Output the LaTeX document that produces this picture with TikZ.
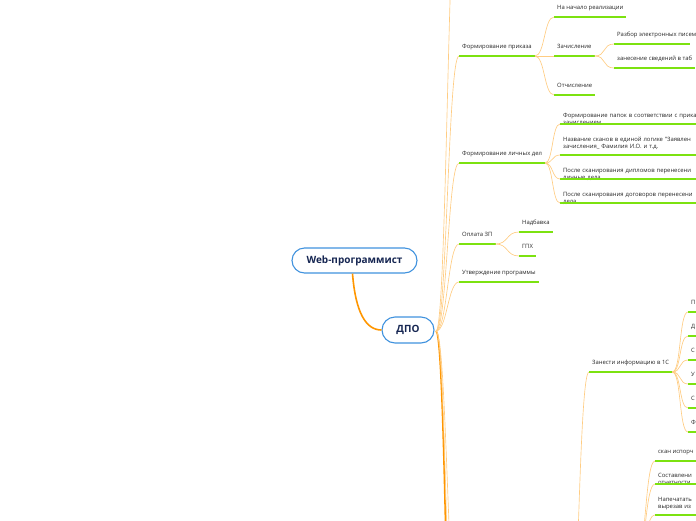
\documentclass[tikz,border=0pt]{standalone}
\usepackage{fontspec}
\setmainfont{Open Sans}
\usepackage{tikz}

\definecolor{mapblue}{RGB}{64,146,222}
\definecolor{mapnavy}{RGB}{22,38,82}
\definecolor{maporange}{RGB}{255,150,0}
\definecolor{maplink}{RGB}{255,204,130}
\definecolor{mapgreen}{RGB}{124,226,16}
\definecolor{maptext}{RGB}{40,40,40}

\begin{document}
\begin{tikzpicture}[x=1pt,y=-1pt,line width=.35pt,font=\fontsize{5.9}{7.6}\selectfont,
  topic/.style={draw=mapblue,line width=1.1pt,fill=white,text=mapnavy,inner sep=0pt,font=\fontsize{10}{12}\selectfont\bfseries},
  leaf/.style={anchor=south west,inner xsep=3pt,inner ysep=7pt,text depth=0pt,text=maptext},
  wrap/.style={leaf,inner ysep=-1pt,text depth=7.6pt,text width=150pt,align=left},
  uline/.style={draw=mapgreen,line width=1.4pt},
  link/.style={draw=maplink,line width=.65pt},
  trunk/.style={draw=maporange,line width=1.6pt},
  fan/.style={out=0,in=180,distance=#1}]
\useasboundingbox (0,0) rectangle (696,520);
\clip (0,0) rectangle (696,520);

\node[topic,minimum width=125pt,minimum height=25pt,rounded corners=12.5pt] (web) at (354.5,260.5) {Web-программист};
\node[topic,minimum width=52pt,minimum height=26pt,rounded corners=13pt] (dpo) at (408,330) {ДПО};
\coordinate (dpohub) at (436,331);

\node[leaf] (prikaz) at (459,56) {Формирование приказа};
\node[leaf] (start) at (554,17) {На начало реализации};
\node[leaf] (zach) at (554,56) {Зачисление};
\node[leaf] (otch) at (554,95) {Отчисление};
\node[leaf] (pisma) at (614,44) {\makebox[70pt][l]{Разбор электронных писем}};
\node[leaf] (tabl) at (614,68) {занесение сведений в таб};

\node[leaf] (dela) at (459,163) {Формирование личных дел};
\node[wrap] (papki) at (560,124) {Формирование папок в соответствии с прика\\зачислением};
\node[wrap,inner ysep=6pt] (skany) at (560,155) {Название сканов в единой логике "Заявлен\\зачисления\_ Фамилия И.О. и т.д.};
\node[wrap] (diplom) at (560,179) {После сканирования дипломов перенесени\\личные дела};
\node[wrap] (dogovor) at (560,203) {После сканирования договоров перенесени\\дела};

\node[leaf] (zp) at (459,244) {Оплата ЗП};
\node[leaf] (nadb) at (519,232) {Надбавка};
\node[leaf] (gph) at (519,256) {ГПХ};
\node[leaf] (utv) at (459,282) {Утверждение программы};

\node[leaf] (onec) at (589,372) {Занести информацию в 1С};
\foreach \y/\l [count=\i] in {312/П,336/Д,360/С,384/У,408/С,432/Ф}
  \node[leaf,text width=40pt] (c\i) at (688,\y) {\l};
\node[leaf] (scan) at (655,461) {скан испорч};
\node[wrap] (otchet) at (655,484) {Составлени\\отчетности};
\node[wrap,inner ysep=6pt] (pechat) at (655,515) {Напечатать\\вырезав из};

\coordinate (up) at (459,-140);
\coordinate (down1) at (459,640);
\coordinate (down2) at (459,780);
\coordinate (down3) at (459,900);
\coordinate (onecroot) at (567,700);
\coordinate (scanroot) at (636,560);

\foreach \n in {prikaz,start,zach,otch,pisma,tabl,dela,papki,skany,diplom,dogovor,zp,nadb,gph,utv,onec,c1,c2,c3,c4,c5,c6,scan,otchet,pechat}
  \draw[uline] (\n.south west) -- (\n.south east);

\draw[trunk] ([xshift=-2pt]web.south) .. controls +(3,38) and +(-16,0) .. (dpo.west);
\draw[trunk] (dpohub) to[fan=11pt] (down3);
\foreach \n in {prikaz,dela,zp,utv}
  \draw[link] (dpohub) to[fan=11pt] (\n.south west);
\foreach \n in {up,down1,down2}
  \draw[link] (dpohub) to[fan=11pt] (\n);
\foreach \n in {start,zach,otch}
  \draw[link] (prikaz.south east) to[fan=10pt] (\n.south west);
\foreach \n in {pisma,tabl}
  \draw[link] (zach.south east) to[fan=12pt] (\n.south west);
\foreach \n in {papki,skany,diplom,dogovor}
  \draw[link] (dela.south east) to[fan=8pt] (\n.south west);
\foreach \n in {nadb,gph}
  \draw[link] (zp.south east) to[fan=13pt] (\n.south west);
\draw[link] (onecroot) to[fan=11pt] (onec.south west);
\foreach \i in {1,...,6}
  \draw[link] (onec.south east) to[fan=9pt] (c\i.south west);
\foreach \n in {scan,otchet,pechat}
  \draw[link] (scanroot) to[fan=10pt] (\n.south west);
\end{tikzpicture}
\end{document}
